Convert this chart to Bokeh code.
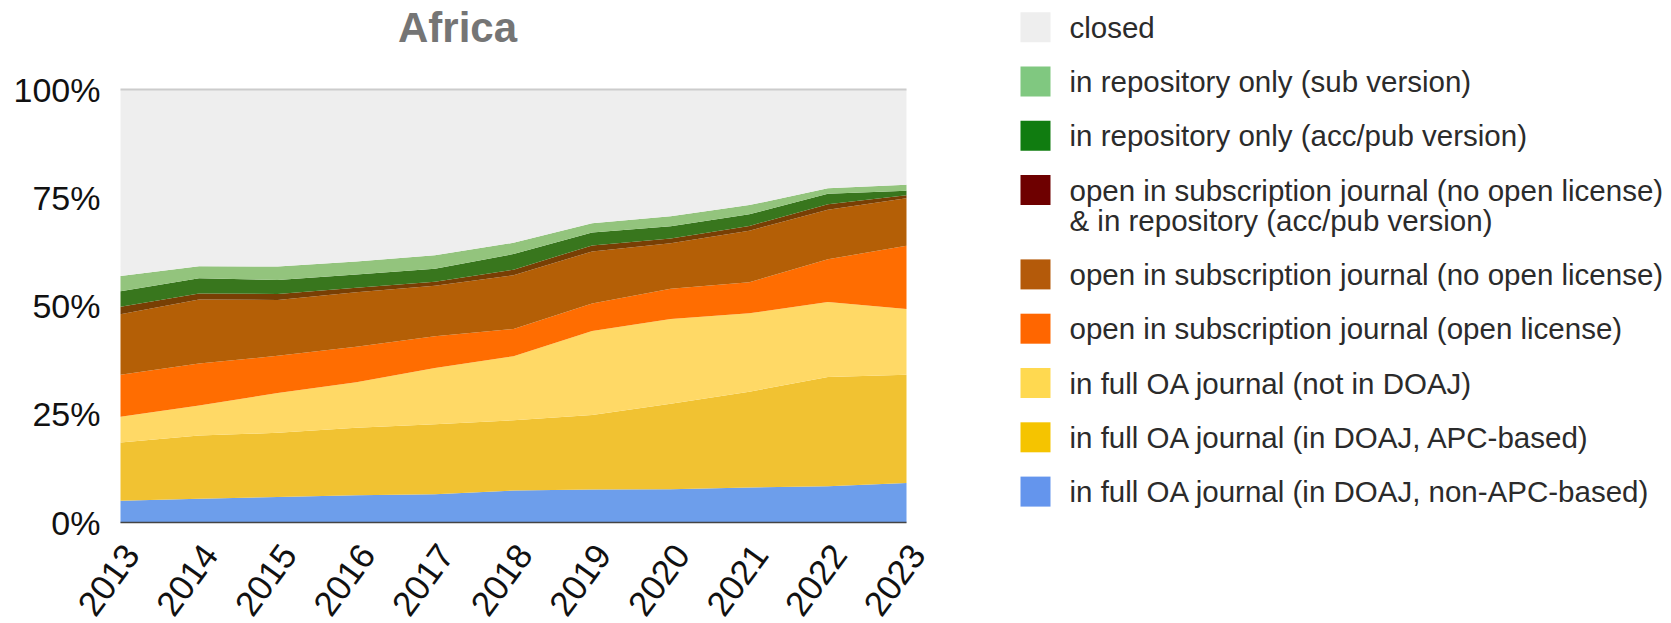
from bokeh.plotting import figure
from bokeh.models import Range1d, ColumnDataSource
from bokeh.embed import file_html
from bokeh.resources import INLINE
from bokeh.core.properties import value
import math

# ---------------- data ----------------
years = [2013, 2014, 2015, 2016, 2017, 2018, 2019, 2020, 2021, 2022, 2023]

# shares in percent, stacked bottom to top
oa_doaj_non_apc = [5.0, 5.5, 5.9, 6.3, 6.5, 7.4, 7.6, 7.7, 8.1, 8.4, 9.1]
oa_doaj_apc = [13.5, 14.6, 14.8, 15.6, 16.2, 16.2, 17.2, 19.7, 22.1, 25.2, 25.0]
oa_not_doaj = [5.9, 6.9, 9.2, 10.5, 13.0, 14.8, 19.4, 19.6, 18.1, 17.3, 15.2]
sub_open_license = [9.7, 9.7, 8.6, 8.2, 7.3, 6.3, 6.4, 7.0, 7.2, 9.9, 14.6]
sub_no_license = [14.0, 14.8, 12.9, 12.6, 11.7, 12.4, 12.0, 10.5, 11.9, 11.4, 11.0]
sub_no_license_repo = [1.7, 1.4, 1.4, 1.0, 0.9, 1.3, 1.4, 1.1, 1.1, 1.3, 0.7]
repo_acc_pub = [3.6, 3.5, 3.2, 3.1, 3.0, 3.6, 3.0, 2.8, 2.7, 2.4, 1.0]
repo_sub = [3.5, 2.8, 3.1, 3.0, 3.1, 2.6, 2.1, 2.3, 2.1, 1.3, 1.4]
closed = [43.1, 40.8, 40.9, 39.7, 38.3, 35.4, 30.9, 29.3, 26.7, 22.8, 22.0]

y_ticks = [0, 25, 50, 75, 100]
y_tick_labels = ["0%", "25%", "50%", "75%", "100%"]
x_tick_labels = [str(y) for y in years]

series_keys = ["non_apc", "apc", "not_doaj", "open_lic", "no_lic",
               "no_lic_repo", "acc_pub", "sub", "closed"]
series_labels = [
    "in full OA journal (in DOAJ, non-APC-based)",
    "in full OA journal (in DOAJ, APC-based)",
    "in full OA journal (not in DOAJ)",
    "open in subscription journal (open license)",
    "open in subscription journal (no open license)",
    "open in subscription journal (no open license)\n& in repository (acc/pub version)",
    "in repository only (acc/pub version)",
    "in repository only (sub version)",
    "closed",
]
area_colors = ["#6d9eeb", "#f1c232", "#ffd966", "#ff6d01", "#b45f06",
               "#783f04", "#38761d", "#93c47d", "#eeeeee"]
legend_colors = ["#6495ed", "#f5c400", "#ffd950", "#ff6600", "#b45a0a",
                 "#6e0000", "#107c10", "#80c880", "#eeeeee"]

chart_title = "Africa"
FONT = "Liberation Sans"

# ---------------- layout (pixels on the page) ----------------
W, H = 1671, 623
PLOT_L, PLOT_R = 120, 906        # 2013 .. 2023
PLOT_T, PLOT_B = 89, 522         # 100% .. 0%
PX_X = (PLOT_R - PLOT_L) / (years[-1] - years[0])
PX_Y = (PLOT_B - PLOT_T) / 100.0


def dx(px):
    return years[0] + (px - PLOT_L) / PX_X


def dy(py):
    return (PLOT_B - py) / PX_Y


src = ColumnDataSource(dict(
    year=years, non_apc=oa_doaj_non_apc, apc=oa_doaj_apc, not_doaj=oa_not_doaj,
    open_lic=sub_open_license, no_lic=sub_no_license, no_lic_repo=sub_no_license_repo,
    acc_pub=repo_acc_pub, sub=repo_sub, closed=closed,
))

p = figure(frame_width=W, frame_height=H,
           x_range=Range1d(dx(0), dx(W)), y_range=Range1d(dy(H), dy(0)),
           x_axis_location=None, y_axis_location=None,
           output_backend="svg", toolbar_location=None,
           min_border=0, outline_line_color=None,
           background_fill_color="white", border_fill_color="white")
p.grid.visible = False

p.varea_stack(stackers=series_keys, x="year", color=area_colors, source=src)

# top gridline (100%) and baseline (0%)
p.segment(x0=[years[0]], y0=[y_ticks[-1]], x1=[years[-1]], y1=[y_ticks[-1]],
          line_color="#cccccc", line_width=2)
p.segment(x0=[years[0]], y0=[y_ticks[0]], x1=[years[-1]], y1=[y_ticks[0]],
          line_color="#444444", line_width=1.5)

# y tick labels
p.text(x=[years[0]] * len(y_ticks), y=y_ticks, text=y_tick_labels,
       x_offset=-20, text_align="right", text_baseline="middle",
       text_font=value(FONT), text_font_size="34px", text_color="#111111")

# slanted x tick labels
p.text(x=years, y=[y_ticks[0]] * len(years), text=x_tick_labels,
       angle=math.radians(54), text_align="right", text_baseline="middle",
       x_offset=11, y_offset=26,
       text_font=value(FONT), text_font_size="35px", text_color="#111111")

# title
p.text(x=[dx(457)], y=[dy(26.7)], text=[chart_title], text_align="center",
       text_baseline="middle", text_font=value(FONT), text_font_size="42px",
       text_font_style="bold", text_color="#757575")

# legend (top to bottom = reverse of stacking order)
SW_CX, TXT_X = 1035, 1069
sw_x, sw_y, t_x, t_y, t_text = [], [], [], [], []
yy = 26.7
for lab in series_labels[::-1]:
    sw_x.append(dx(SW_CX))
    sw_y.append(dy(yy))
    lines = lab.split("\n")
    for j, line in enumerate(lines):
        t_x.append(dx(TXT_X))
        t_y.append(dy(yy + 30 * j))
        t_text.append(line)
    yy += 54.3 + 30 * (len(lines) - 1)

p.rect(x=sw_x, y=sw_y, width=30, height=30,
       width_units="screen", height_units="screen",
       fill_color=legend_colors[::-1], line_color=None)
p.text(x=t_x, y=t_y, text=t_text, text_font=value(FONT),
       text_font_size="29.5px", text_baseline="middle", text_align="left",
       text_color="#2b2b2b")

open("out.html", "w").write(file_html(p, INLINE))
